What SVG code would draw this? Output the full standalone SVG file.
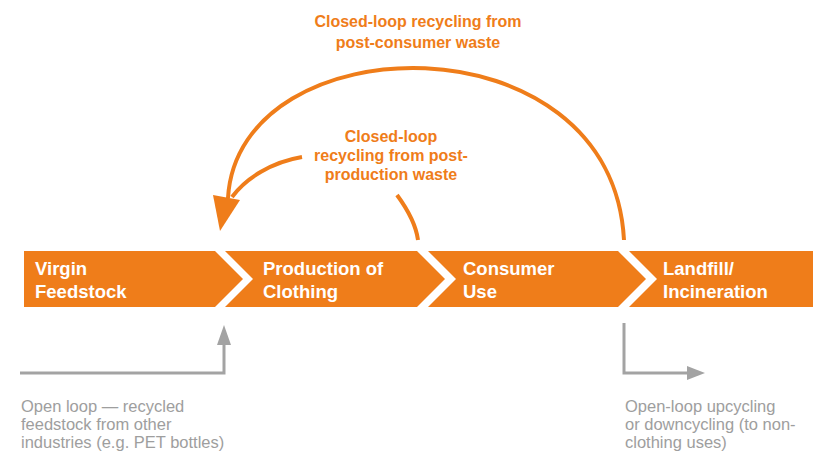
<svg xmlns="http://www.w3.org/2000/svg" width="818" height="452" viewBox="0 0 818 452">
<style>
.seg{fill:#EF7D1A}
.nt{font-family:"Liberation Sans",Arial,sans-serif;font-weight:bold;font-size:18.5px;fill:#FFFFFF}
.ot{font-family:"Liberation Sans",Arial,sans-serif;font-weight:bold;font-size:16px;fill:#EF7D1A;text-anchor:middle}
.gt{font-family:"Liberation Sans",Arial,sans-serif;font-size:16.5px;fill:#9E9E9E}
.oc{fill:none;stroke:#EF7D1A;stroke-width:4}
.gc{fill:none;stroke:#A3A3A3;stroke-width:3}
</style>
<rect width="818" height="452" fill="#FFFFFF"/>
<g id="virgin-feedstock">
<polygon class="seg" points="24,251 215,251 243,279 215,307 24,307"/>
<text class="nt" x="35" y="275">Virgin</text>
<text class="nt" x="35" y="298">Feedstock</text>
</g>
<g id="production-of-clothing">
<polygon class="seg" points="225,251 417,251 445,279 417,307 225,307 253,279"/>
<text class="nt" x="263" y="275">Production of</text>
<text class="nt" x="263" y="298">Clothing</text>
</g>
<g id="consumer-use">
<polygon class="seg" points="428,251 618,251 646,279 618,307 428,307 456,279"/>
<text class="nt" x="463" y="275">Consumer</text>
<text class="nt" x="463" y="298">Use</text>
</g>
<g id="landfill-incineration">
<polygon class="seg" points="629,251 813,251 813,307 629,307 657,279"/>
<text class="nt" x="663" y="275">Landfill/</text>
<text class="nt" x="663" y="298">Incineration</text>
</g>
<g id="connectors">
<path class="oc" d="M624,240 C612,14 238,22 228,198"/>
<path class="oc" d="M302,157 C272,162 246,178 232,197"/>
<path class="oc" d="M397,195 C408,210 416,225 418,240"/>
<polygon fill="#EF7D1A" points="213,195 240,200 220,231"/>
<polyline class="gc" points="20,373 224,373 224,343"/>
<polygon fill="#A3A3A3" points="224,325 217,345 231,345"/>
<polyline class="gc" points="624,323 624,373 688,373"/>
<polygon fill="#A3A3A3" points="705,373 687,366 687,380"/>
</g>
<g id="label-post-consumer">
<text class="ot" x="418" y="27">Closed-loop recycling from</text>
<text class="ot" x="418" y="48">post-consumer waste</text>
</g>
<g id="label-post-production">
<text class="ot" x="391" y="142">Closed-loop</text>
<text class="ot" x="391" y="161">recycling from post-</text>
<text class="ot" x="391" y="180">production waste</text>
</g>
<g id="label-open-loop-in">
<text class="gt" x="21" y="412">Open loop — recycled</text>
<text class="gt" x="21" y="430">feedstock from other</text>
<text class="gt" x="21" y="448">industries (e.g. PET bottles)</text>
</g>
<g id="label-open-loop-out">
<text class="gt" x="625" y="412">Open-loop upcycling</text>
<text class="gt" x="625" y="430">or downcycling (to non-</text>
<text class="gt" x="625" y="448">clothing uses)</text>
</g>
</svg>
